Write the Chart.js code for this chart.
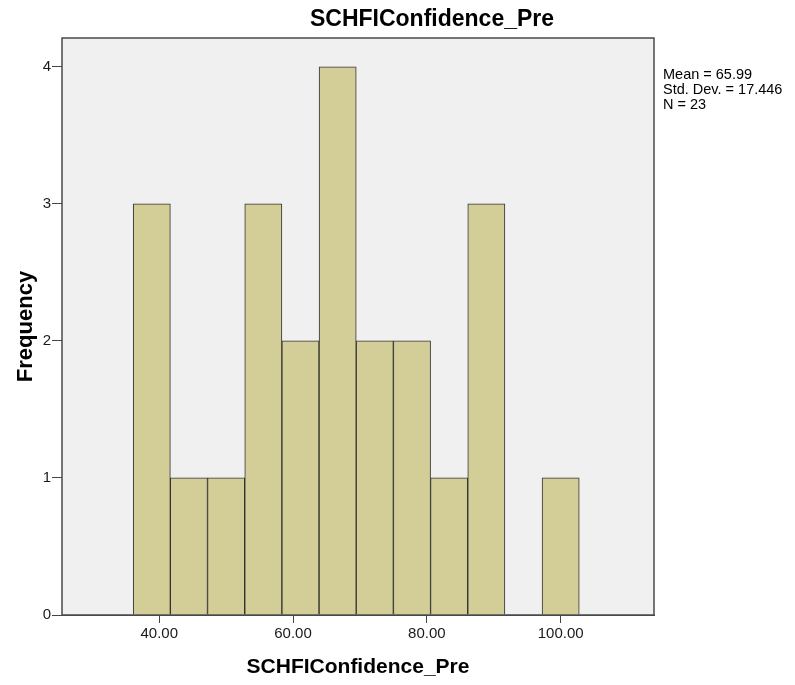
<!DOCTYPE html>
<html>
<head>
<meta charset="utf-8">
<script src="https://cdn.jsdelivr.net/npm/chart.js@4"></script>
<style>
  body { margin: 0; background: #fff; }
  canvas { display: block; }
</style>
</head>
<body>
<canvas id="histChart" width="795" height="685"></canvas>
<script>
// bin centres (bin width 5.556) and counts
const binCenters = [38.89, 44.44, 50.00, 55.56, 61.11, 66.67, 72.22, 77.78, 83.33, 88.89, 94.44, 100.00];
const frequencies = [3, 1, 1, 3, 2, 4, 2, 2, 1, 3, 0, 1];
const xTicks = [40, 60, 80, 100];
const yTicks = [0, 1, 2, 3, 4];
const statLines = ["Mean = 65.99", "Std. Dev. = 17.446", "N = 23"];
const chartTitle = "SCHFIConfidence_Pre";

const FONT = "'Liberation Sans', Arial, sans-serif";

// plot background + frame, title and the stats text on the right
const frameBox = {
  id: "frameBox",
  beforeDatasetsDraw(chart) {
    const { ctx, chartArea: a } = chart;
    ctx.save();
    ctx.fillStyle = "#f0f0f0";
    ctx.fillRect(a.left, a.top, a.right - a.left, a.bottom - a.top);
    ctx.restore();
  },
  afterDraw(chart) {
    const { ctx, chartArea: a } = chart;
    ctx.save();
    ctx.strokeStyle = "#4a4a4a";
    ctx.lineWidth = 1.5;
    ctx.strokeRect(a.left, a.top, a.right - a.left, a.bottom - a.top);

    ctx.fillStyle = "#000";
    ctx.textBaseline = "middle";
    ctx.textAlign = "center";
    ctx.font = "bold 23px " + FONT;
    ctx.fillText(chartTitle, 432, 20);

    ctx.textAlign = "left";
    ctx.font = "14.5px " + FONT;
    statLines.forEach((t, i) => {
      ctx.fillText(t, a.right + 9, 75 + i * 15);
    });
    ctx.restore();
  }
};

const ctxHist = document.getElementById("histChart").getContext("2d");
new Chart(ctxHist, {
  type: "bar",
  data: {
    datasets: [{
      data: binCenters.map((c, i) => ({ x: c, y: frequencies[i] })),
      backgroundColor: "rgb(211, 206, 152)",
      borderColor: "#333",
      borderWidth: 1,
      barPercentage: 1,
      categoryPercentage: 1
    }]
  },
  options: {
    responsive: false,
    animation: false,
    layout: { padding: { left: 0, right: 141, top: 38, bottom: 0 } },
    plugins: {
      legend: { display: false },
      tooltip: { enabled: false },
      title: { display: false }
    },
    scales: {
      x: {
        type: "linear",
        offset: false,
        min: 25.47,
        max: 113.95,
        afterBuildTicks: s => { s.ticks = xTicks.map(v => ({ value: v })); },
        afterFit: s => { s.height = 70; },
        grid: { offset: false, drawOnChartArea: false, drawTicks: true, tickLength: 8, color: "#444" },
        border: { display: true, color: "#444" },
        ticks: {
          color: "#1a1a1a",
          padding: 2,
          font: { family: FONT, size: 15 },
          callback: v => Number(v).toFixed(2)
        },
        title: {
          display: true,
          text: chartTitle,
          color: "#000",
          font: { family: FONT, size: 21, weight: "bold" },
          padding: { bottom: 5 }
        }
      },
      y: {
        min: 0,
        max: 4.21,
        afterBuildTicks: s => { s.ticks = yTicks.map(v => ({ value: v })); },
        afterFit: s => { s.width = 62; },
        grid: { drawOnChartArea: false, drawTicks: true, tickLength: 10, color: "#444" },
        border: { display: true, color: "#444" },
        ticks: {
          color: "#1a1a1a",
          padding: 1,
          font: { family: FONT, size: 15 }
        },
        title: {
          display: true,
          text: "Frequency",
          color: "#000",
          font: { family: FONT, size: 22, weight: "bold" },
          padding: { top: 13 }
        }
      }
    }
  },
  plugins: [frameBox]
});
</script>
</body>
</html>
